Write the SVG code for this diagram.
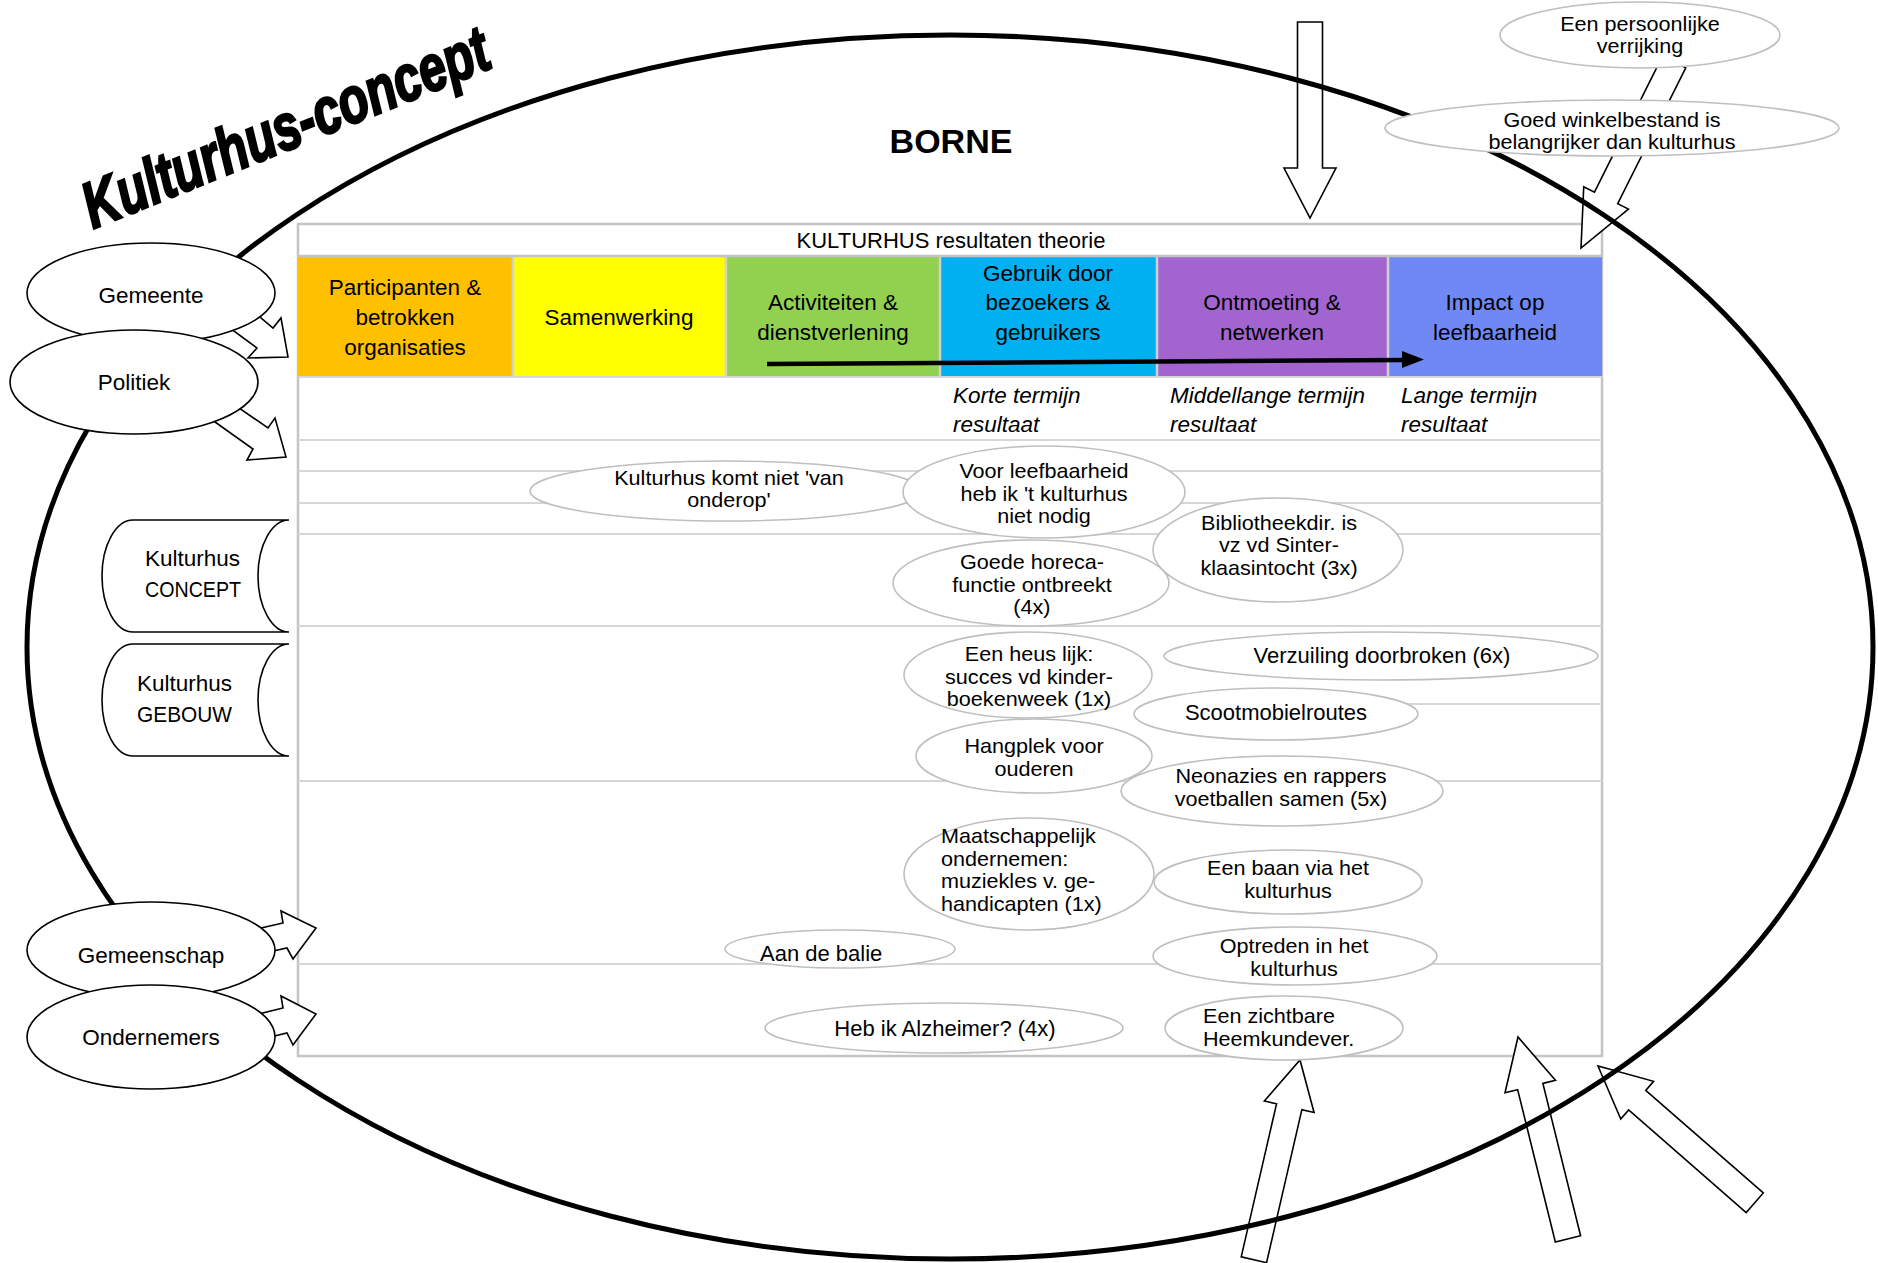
<svg xmlns="http://www.w3.org/2000/svg" width="1878" height="1263" viewBox="0 0 1878 1263">
<style>
text{font-family:"Liberation Sans",Arial,sans-serif;fill:#000}
.hd{font-size:22.5px;text-anchor:middle}
.et{font-size:20px;text-anchor:middle}
.el{font-size:20px;text-anchor:start}
.e1{font-size:22px;text-anchor:middle}
.it{font-size:22.5px;font-style:italic}
.nd{font-size:22.5px;text-anchor:middle}
.inner{fill:#fff;stroke:#BFBFBF;stroke-width:1.6}
.outer{fill:#fff;stroke:#000;stroke-width:1.6}
.blk{fill:#fff;stroke:#000;stroke-width:1.6;stroke-linejoin:miter}
.row{stroke:#D6D6D6;stroke-width:2}
</style>

<g id="table">
<rect x="298" y="224" width="1304" height="832" fill="#fff" stroke="#C4C4C4" stroke-width="2.5"/>
<rect x="298" y="256" width="215" height="121" fill="#FFC000"/>
<rect x="513" y="256" width="213" height="121" fill="#FFFF00"/>
<rect x="726" y="256" width="214" height="121" fill="#92D050"/>
<rect x="940" y="256" width="217" height="121" fill="#00B0F0"/>
<rect x="1157" y="256" width="231" height="121" fill="#A265CF"/>
<rect x="1388" y="256" width="214" height="121" fill="#7088F3"/>
<g stroke="#D0D0D0" stroke-width="2.5">
<line x1="513" y1="256" x2="513" y2="377"/>
<line x1="726" y1="256" x2="726" y2="377"/>
<line x1="940" y1="256" x2="940" y2="377"/>
<line x1="1157" y1="256" x2="1157" y2="377"/>
<line x1="1388" y1="256" x2="1388" y2="377"/>
</g>
<line x1="298" y1="256" x2="1602" y2="256" stroke="#C4C4C4" stroke-width="2.5"/>
<line class="row" x1="298" y1="377" x2="1602" y2="377"/>
<line class="row" x1="298" y1="440" x2="1602" y2="440"/>
<line class="row" x1="298" y1="471" x2="1602" y2="471"/>
<line class="row" x1="298" y1="503" x2="1602" y2="503"/>
<line class="row" x1="298" y1="534" x2="1602" y2="534"/>
<line class="row" x1="298" y1="626" x2="1602" y2="626"/>
<line class="row" x1="1157" y1="704" x2="1602" y2="704"/>
<line class="row" x1="298" y1="781" x2="1602" y2="781"/>
<line class="row" x1="298" y1="964" x2="1602" y2="964"/>
<text x="951" y="248" style="font-size:22px;text-anchor:middle">KULTURHUS resultaten theorie</text>
<text class="hd" x="405" y="295">Participanten &amp;</text>
<text class="hd" x="405" y="325">betrokken</text>
<text class="hd" x="405" y="355">organisaties</text>
<text class="hd" x="619" y="325">Samenwerking</text>
<text class="hd" x="833" y="310">Activiteiten &amp;</text>
<text class="hd" x="833" y="340">dienstverlening</text>
<text class="hd" x="1048" y="281">Gebruik door</text>
<text class="hd" x="1048" y="310">bezoekers &amp;</text>
<text class="hd" x="1048" y="340">gebruikers</text>
<text class="hd" x="1272" y="310">Ontmoeting &amp;</text>
<text class="hd" x="1272" y="340">netwerken</text>
<text class="hd" x="1495" y="310">Impact op</text>
<text class="hd" x="1495" y="340">leefbaarheid</text>
<line x1="767" y1="364" x2="1406" y2="360" stroke="#000" stroke-width="4.5"/>
<polygon points="1402,351 1424,359.5 1402,368" fill="#000"/>
<text class="it" x="953" y="403">Korte termijn</text>
<text class="it" x="953" y="432">resultaat</text>
<text class="it" x="1170" y="403">Middellange termijn</text>
<text class="it" x="1170" y="432">resultaat</text>
<text class="it" x="1401" y="403">Lange termijn</text>
<text class="it" x="1401" y="432">resultaat</text>
</g>

<g id="connectors">
<polygon class="blk" transform="translate(1310,218) rotate(90)" points="-196,-12.5 -50,-12.5 -50,-26 0,0 -50,26 -50,12.5 -196,12.5"/>
<polygon class="blk" transform="translate(1581,248) rotate(116.6)" points="-208,-13 -56,-13 -56,-25 0,0 -56,25 -56,13 -208,13"/>
<polygon class="blk" transform="translate(1300,1060) rotate(-77)" points="-205,-13 -48,-13 -48,-25.5 0,0 -48,25.5 -48,13 -205,13"/>
<polygon class="blk" transform="translate(1518,1037) rotate(-103.9)" points="-208,-13 -51,-13 -51,-26 0,0 -51,26 -51,13 -208,13"/>
<polygon class="blk" transform="translate(1598,1066) rotate(-138.9)" points="-208,-13 -52,-13 -52,-25 0,0 -52,25 -52,13 -208,13"/>
<polygon class="blk" points="248,307 273,328 281,318 288,357 248,358 257,348 223,323"/>
<polygon class="blk" points="226,399 268,428 275,418 286,457 247,460 253,449 201,412"/>
<polygon class="blk" points="231,935 283,923 281,911 316,928 293,959 287,948 246,957"/>
<polygon class="blk" points="234,1020 283,1008 281,996 316,1014 293,1045 287,1033 246,1043"/>
</g>

<g id="borne">
<ellipse cx="950" cy="647" rx="923" ry="612" fill="none" stroke="#000" stroke-width="5"/>
<text x="951" y="153" style="font-size:34px;font-weight:bold;text-anchor:middle">BORNE</text>
</g>

<g id="title">
<text transform="translate(93,229) rotate(-22) scale(0.75,1)" x="0" y="0" style="font-size:65px;font-weight:bold;font-style:italic;stroke:#000;stroke-width:2.5">Kulturhus-concept</text>
</g>

<g id="n-kulturhus-komt-niet"><ellipse class="inner" cx="726" cy="491" rx="196" ry="30"/>
<g transform="matrix(1.08 0 0 1 -58.3 0)"><text class="et" x="729" y="485">Kulturhus komt niet 'van</text><text class="et" x="729" y="507.5">onderop'</text></g></g>
<g id="n-voor-leefbaarheid"><ellipse class="inner" cx="1044" cy="492" rx="141" ry="46"/>
<g transform="matrix(1.08 0 0 1 -83.5 0)"><text class="et" x="1044" y="478.5">Voor leefbaarheid</text><text class="et" x="1044" y="501">heb ik 't kulturhus</text><text class="et" x="1044" y="523.5">niet nodig</text></g></g>
<g id="n-bibliotheekdir"><ellipse class="inner" cx="1278" cy="550" rx="125" ry="52"/>
<g transform="matrix(1.08 0 0 1 -102.3 0)"><text class="et" x="1279" y="530">Bibliotheekdir. is</text><text class="et" x="1279" y="552.5">vz vd Sinter-</text><text class="et" x="1279" y="575">klaasintocht (3x)</text></g></g>
<g id="n-goede-horeca"><ellipse class="inner" cx="1031" cy="583" rx="138" ry="43"/>
<g transform="matrix(1.08 0 0 1 -82.6 0)"><text class="et" x="1032" y="569.5">Goede horeca-</text><text class="et" x="1032" y="592">functie ontbreekt</text><text class="et" x="1032" y="614.5">(4x)</text></g></g>
<g id="n-heus-lijk"><ellipse class="inner" cx="1028" cy="675" rx="124" ry="43"/>
<g transform="matrix(1.08 0 0 1 -82.3 0)"><text class="et" x="1029" y="661.5">Een heus lijk:</text><text class="et" x="1029" y="684">succes vd kinder-</text><text class="et" x="1029" y="706.5">boekenweek (1x)</text></g></g>
<g id="n-verzuiling"><ellipse class="inner" cx="1381" cy="656" rx="217" ry="24"/>
<text class="e1" x="1382" y="663">Verzuiling doorbroken (6x)</text></g>
<g id="n-scootmobiel"><ellipse class="inner" cx="1276" cy="714" rx="142" ry="26"/>
<text class="e1" x="1276" y="720">Scootmobielroutes</text></g>
<g id="n-hangplek"><ellipse class="inner" cx="1034" cy="756" rx="118" ry="37"/>
<g transform="matrix(1.08 0 0 1 -82.7 0)"><text class="et" x="1034" y="753.5">Hangplek voor</text><text class="et" x="1034" y="776">ouderen</text></g></g>
<g id="n-neonazies"><ellipse class="inner" cx="1282" cy="791" rx="161" ry="35"/>
<g transform="matrix(1.08 0 0 1 -102.5 0)"><text class="et" x="1281" y="783.5">Neonazies en rappers</text><text class="et" x="1281" y="806">voetballen samen (5x)</text></g></g>
<g id="n-maatschappelijk"><ellipse class="inner" cx="1029" cy="874" rx="125" ry="56"/>
<g transform="matrix(1.08 0 0 1 -75.3 0)"><text class="el" x="941" y="843.5">Maatschappelijk</text><text class="el" x="941" y="866">ondernemen:</text><text class="el" x="941" y="888.5">muziekles v. ge-</text><text class="el" x="941" y="911">handicapten (1x)</text></g></g>
<g id="n-een-baan"><ellipse class="inner" cx="1288" cy="882" rx="134" ry="32"/>
<g transform="matrix(1.08 0 0 1 -103 0)"><text class="et" x="1288" y="875.5">Een baan via het</text><text class="et" x="1288" y="898">kulturhus</text></g></g>
<g id="n-aan-de-balie"><ellipse class="inner" cx="840" cy="949" rx="115" ry="19"/>
<text class="e1" x="760" y="961" style="text-anchor:start">Aan de balie</text></g>
<g id="n-optreden"><ellipse class="inner" cx="1295" cy="956" rx="142" ry="29"/>
<g transform="matrix(1.08 0 0 1 -103.5 0)"><text class="et" x="1294" y="953.5">Optreden in het</text><text class="et" x="1294" y="976">kulturhus</text></g></g>
<g id="n-alzheimer"><ellipse class="inner" cx="944" cy="1028" rx="179" ry="25"/>
<text class="e1" x="945" y="1036">Heb ik Alzheimer? (4x)</text></g>
<g id="n-heemkunde"><ellipse class="inner" cx="1284" cy="1028" rx="119" ry="32"/>
<g transform="matrix(1.08 0 0 1 -96.2 0)"><text class="el" x="1203" y="1023.5">Een zichtbare</text><text class="el" x="1203" y="1046">Heemkundever.</text></g></g>

<g id="n-persoonlijke"><ellipse class="inner" cx="1640" cy="35" rx="140" ry="33"/>
<g transform="matrix(1.08 0 0 1 -131.2 0)"><text class="et" x="1640" y="31">Een persoonlijke</text><text class="et" x="1640" y="53.5">verrijking</text></g></g>
<g id="n-winkelbestand"><ellipse class="inner" cx="1612" cy="128" rx="227" ry="28"/>
<g transform="matrix(1.08 0 0 1 -129 0)"><text class="et" x="1612" y="127">Goed winkelbestand is</text><text class="et" x="1612" y="149.5">belangrijker dan kulturhus</text></g></g>

<g id="n-gemeente"><ellipse class="outer" cx="151" cy="293" rx="124" ry="50"/>
<text class="nd" x="151" y="303">Gemeente</text></g>
<g id="n-politiek"><ellipse class="outer" cx="134" cy="382" rx="124" ry="52"/>
<text class="nd" x="134" y="390">Politiek</text></g>
<g id="n-concept"><path class="outer" d="M133 520 L289 520 A31 56 0 0 0 289 632 L133 632 A31 56 0 0 1 133 520 Z"/>
<text x="145" y="566" style="font-size:22.5px">Kulturhus</text><text x="145" y="597" style="font-size:22.5px" textLength="96" lengthAdjust="spacingAndGlyphs">CONCEPT</text></g>
<g id="n-gebouw"><path class="outer" d="M133 644 L289 644 A31 56 0 0 0 289 756 L133 756 A31 56 0 0 1 133 644 Z"/>
<text x="137" y="691" style="font-size:22.5px">Kulturhus</text><text x="137" y="722" style="font-size:22.5px" textLength="95" lengthAdjust="spacingAndGlyphs">GEBOUW</text></g>
<g id="n-gemeenschap"><ellipse class="outer" cx="151" cy="950" rx="124" ry="48"/>
<text class="nd" x="151" y="963">Gemeenschap</text></g>
<g id="n-ondernemers"><ellipse class="outer" cx="151" cy="1037" rx="124" ry="52"/>
<text class="nd" x="151" y="1045">Ondernemers</text></g>
</svg>
